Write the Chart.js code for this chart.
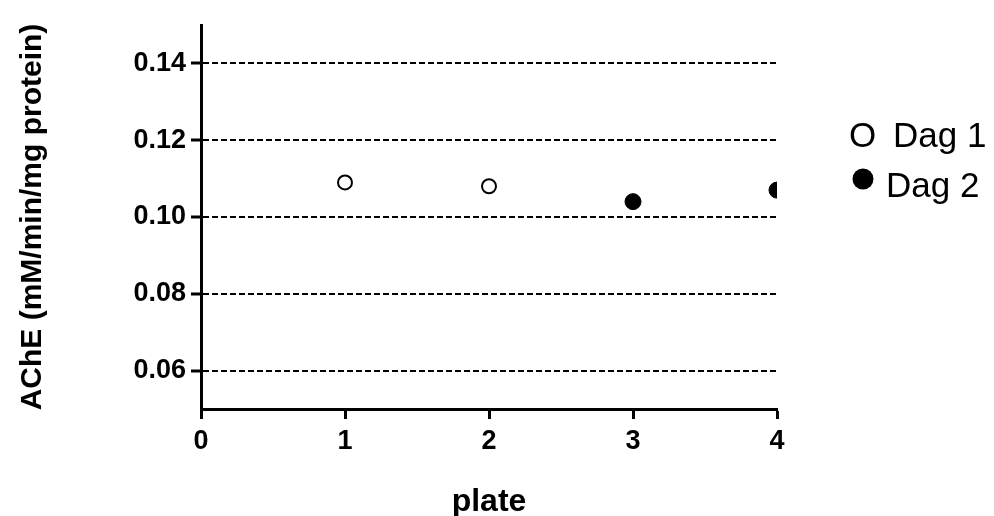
<!DOCTYPE html>
<html>
<head>
<meta charset="utf-8">
<script src="https://cdn.jsdelivr.net/npm/chart.js@4/dist/chart.umd.min.js"></script>
<style>
  html, body { margin: 0; padding: 0; background: #ffffff; }
  #wrap { width: 994px; height: 516px; position: relative; }
</style>
</head>
<body>
<div id="wrap"><canvas id="c" width="994" height="516"></canvas></div>
<script>
// Plate numbers (x) and AChE activity (y) for each day
const dag1Plates = [1, 2];
const dag1Values = [0.109, 0.108];
const dag2Plates = [3, 4];
const dag2Values = [0.104, 0.107];

const seriesLabels = ['Dag 1', 'Dag 2'];
const yTickValues = [0.06, 0.08, 0.10, 0.12, 0.14];
const xTickValues = [0, 1, 2, 3, 4];

const FONT = '"Liberation Sans", Arial, Helvetica, sans-serif';

const toPoints = (xs, ys) => xs.map((x, i) => ({ x: x, y: ys[i] }));

// Legend drawn to the right of the plot, one row per dataset
const sideLegend = {
  id: 'sideLegend',
  afterDraw(chart) {
    const ctx = chart.ctx;
    const rows = [
      { baseline: 147, markerX: 849, textX: 893 },
      { baseline: 197, markerX: 863, textX: 886 }
    ];
    ctx.save();
    ctx.fillStyle = '#000';
    ctx.strokeStyle = '#000';
    ctx.font = '35px ' + FONT;
    ctx.textBaseline = 'alphabetic';
    chart.data.datasets.forEach((ds, i) => {
      const r = rows[i];
      if (ds.hollow) {
        ctx.textAlign = 'left';
        ctx.fillText('O', r.markerX, r.baseline);
      } else {
        ctx.beginPath();
        ctx.arc(r.markerX, r.baseline - 18, 10.5, 0, Math.PI * 2);
        ctx.fill();
      }
      ctx.textAlign = 'left';
      ctx.fillText(ds.label, r.textX, r.baseline);
    });
    ctx.restore();
  }
};

new Chart(document.getElementById('c'), {
  type: 'scatter',
  data: {
    datasets: [
      {
        label: seriesLabels[0],
        hollow: true,
        data: toPoints(dag1Plates, dag1Values),
        pointRadius: 7,
        pointBorderWidth: 2,
        pointBackgroundColor: '#ffffff',
        pointBorderColor: '#000000'
      },
      {
        label: seriesLabels[1],
        hollow: false,
        data: toPoints(dag2Plates, dag2Values),
        pointRadius: 8,
        pointBorderWidth: 1,
        pointBackgroundColor: '#000000',
        pointBorderColor: '#000000'
      }
    ]
  },
  options: {
    responsive: false,
    animation: false,
    devicePixelRatio: 1,
    layout: { padding: { top: 25, right: 217, left: 0, bottom: 0 } },
    plugins: {
      legend: { display: false },
      tooltip: { enabled: false }
    },
    scales: {
      x: {
        type: 'linear',
        min: 0,
        max: 4,
        afterBuildTicks(scale) { scale.ticks = xTickValues.map(v => ({ value: v })); },
        afterFit(scale) { scale.height = 107; },
        grid: {
          drawOnChartArea: false,
          drawTicks: true,
          tickLength: 10,
          tickWidth: 3,
          tickColor: '#000'
        },
        border: { display: true, color: '#000', width: 3 },
        ticks: {
          color: '#000',
          padding: 6,
          font: { family: FONT, size: 27, weight: 'bold' },
          callback: v => String(v)
        },
        title: {
          display: true,
          text: 'plate',
          color: '#000',
          padding: { top: 0, bottom: -5 },
          font: { family: FONT, size: 32, weight: 'bold' }
        }
      },
      y: {
        type: 'linear',
        min: 0.05,
        max: 0.15,
        afterBuildTicks(scale) { scale.ticks = yTickValues.map(v => ({ value: v })); },
        afterFit(scale) { scale.width = 201; },
        grid: {
          drawOnChartArea: true,
          color: '#000',
          lineWidth: 2,
          drawTicks: true,
          tickLength: 10,
          tickWidth: 3,
          tickColor: '#000',
          tickBorderDash: []
        },
        border: { display: true, color: '#000', width: 3, dash: [6, 3] },
        ticks: {
          color: '#000',
          padding: 5,
          font: { family: FONT, size: 27, weight: 'bold' },
          callback: v => v.toFixed(2)
        },
        title: {
          display: true,
          text: 'AChE (mM/min/mg protein)',
          color: '#000',
          padding: { top: 15, bottom: 0 },
          font: { family: FONT, size: 30, weight: 'bold' }
        }
      }
    }
  },
  plugins: [sideLegend]
});
</script>
</body>
</html>
